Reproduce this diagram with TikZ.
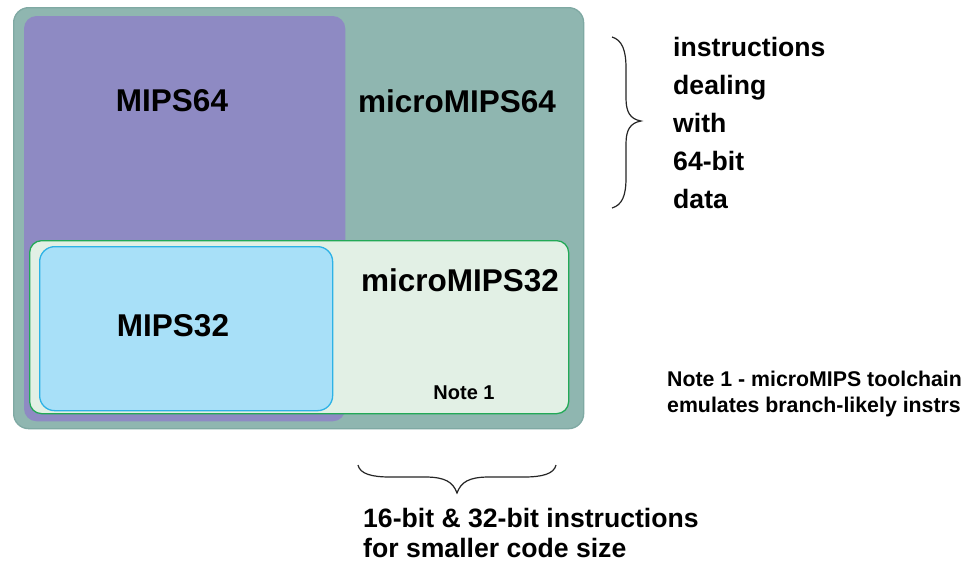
\documentclass[tikz,border=0pt]{standalone}
\usepackage{fontspec}
\setmainfont{Liberation Sans}
\begin{document}
\begin{tikzpicture}[x=1pt,y=-1pt,
  region/.style={rounded corners=#1, anchor=north west, inner sep=0pt, line width=1.3pt},
  big/.style={font=\bfseries\fontsize{31.5}{36}\selectfont, inner sep=0pt},
  side/.style={font=\bfseries\fontsize{26.6}{38}\selectfont, inner sep=0pt, anchor=base west},
  brc/.style={line width=1.2pt, draw=black!85}]
\definecolor{teal1}{HTML}{8FB6B0}
\definecolor{teal2}{HTML}{7FA9A3}
\definecolor{purp}{HTML}{8E8AC3}
\definecolor{lgreen}{HTML}{E2F0E5}
\definecolor{dgreen}{HTML}{22A957}
\definecolor{lblue}{HTML}{A8E0F8}
\definecolor{dblue}{HTML}{2DB2E6}
\useasboundingbox[fill=white] (0,0) rectangle (971,565);
\node[region=15pt, fill=teal1, draw=teal2, minimum width=570pt, minimum height=421pt] (outer) at (13,7) {};
\node[region=12pt, fill=purp, draw=purp, minimum width=320pt, minimum height=404pt] (m64) at (24,16) {};
\node[region=12pt, fill=lgreen, draw=dgreen, minimum width=539pt, minimum height=173pt] (um32) at (29,240) {};
\node[region=15pt, fill=lblue, draw=dblue, minimum width=293pt, minimum height=164pt] (m32) at (39,246) {};
\node[big] (t64) at (172,101) {MIPS64};
\node[big] (tu64) at (457,101) {microMIPS64};
\node[big] (tu32) at (460,280) {microMIPS32};
\node[big] (t32) at (173,326) {MIPS32};
\node[font=\bfseries\fontsize{20}{24}\selectfont, inner sep=0pt] (n1) at (464,393) {Note 1};
% right brace
\coordinate (rb1) at (612,37);
\coordinate (rb2) at (612,208);
\coordinate (rbt) at (641,121);
\draw[brc] (rb1) .. controls (622,40) and (626,50) .. (626,68)
  -- (626,98) .. controls (626,112) and (630,119) .. (rbt)
  .. controls (630,123) and (626,130) .. (626,144)
  -- (626,178) .. controls (626,196) and (622,205) .. (rb2);
\node[side] (l1) at (673,56.7) {instructions};
\node[side] (l2) at (673,94.7) {dealing};
\node[side] (l3) at (673,132.7) {with};
\node[side] (l4) at (673,170.7) {64-bit};
\node[side] (l5) at (673,208.7) {data};
% bottom brace
\coordinate (bb1) at (358,465);
\coordinate (bb2) at (556,465);
\coordinate (bbt) at (457,493);
\draw[brc] (bb1) .. controls (360,474) and (372,477) .. (390,477)
  -- (425,477) .. controls (445,477) and (453,482) .. (bbt)
  .. controls (461,482) and (469,477) .. (489,477)
  -- (524,477) .. controls (542,477) and (554,474) .. (bb2);
\node[font=\bfseries\fontsize{26.6}{30}\selectfont, inner sep=0pt, anchor=north west, align=left] (bt) at (363,508) {16-bit \& 32-bit instructions\\for smaller code size};
\node[font=\bfseries\fontsize{21.3}{26}\selectfont, inner sep=0pt, anchor=north west, align=left] (nt) at (667,371) {Note 1 - microMIPS toolchain\\emulates branch-likely instrs};
\end{tikzpicture}
\end{document}
